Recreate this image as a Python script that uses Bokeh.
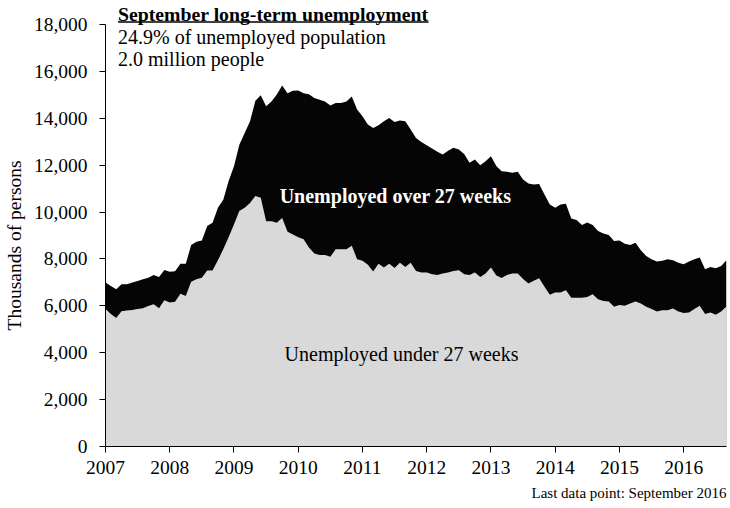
import numpy as np
import pandas as pd
from bokeh.plotting import figure
from bokeh.models import (Range1d, FixedTicker, NumeralTickFormatter, Label,
                          BasicTickFormatter, Title)
from bokeh.embed import file_html
from bokeh.resources import INLINE

# ---------------- data (thousands of persons, monthly) ----------------
months = pd.date_range("2007-01-01", "2016-09-01", freq="MS")

total_unemployed = [
    6990, 6850, 6710, 6920, 6920, 6990, 7060, 7130, 7200, 7310, 7230, 7530,
    7450, 7480, 7790, 7790, 8590, 8730, 8790, 9400, 9540, 10180, 10530, 11320,
    11950, 12870, 13370, 13870, 14750, 14980, 14510, 14720, 15010, 15400, 15070, 15170,
    15190, 15070, 15030, 14870, 14790, 14720, 14550, 14650, 14650, 14720, 14930, 14370,
    14090, 13730, 13590, 13700, 13870, 14010, 13840, 13900, 13870, 13520, 13160, 12990,
    12850, 12710, 12570, 12450, 12620, 12740, 12670, 12480, 12100, 12240, 12000, 12170,
    12380, 11960, 11740, 11720, 11680, 11720, 11390, 11220, 11180, 11200, 10750, 10320,
    10180, 10320, 10350, 9720, 9660, 9450, 9550, 9450, 9190, 9080, 9020, 8770,
    8790, 8650, 8590, 8690, 8370, 8130, 7990, 7890, 7920, 7990, 7940, 7840,
    7770, 7890, 7990, 8060, 7560, 7660, 7600, 7700, 7940,
]

under_27_weeks = [
    5860, 5650, 5480, 5770, 5800, 5820, 5860, 5900, 5990, 6070, 5900, 6240,
    6140, 6170, 6520, 6420, 7030, 7130, 7200, 7510, 7510, 7940, 8410, 8930,
    9470, 10040, 10180, 10390, 10680, 10610, 9610, 9610, 9540, 9750, 9160, 9040,
    8930, 8840, 8490, 8230, 8170, 8170, 8090, 8410, 8410, 8410, 8560, 7990,
    7920, 7750, 7460, 7800, 7640, 7800, 7610, 7840, 7660, 7840, 7490, 7420,
    7420, 7350, 7320, 7380, 7420, 7490, 7520, 7350, 7320, 7420, 7230, 7380,
    7640, 7290, 7190, 7320, 7380, 7380, 7140, 6950, 7070, 7180, 6810, 6470,
    6570, 6570, 6660, 6350, 6350, 6350, 6380, 6490, 6280, 6210, 6180, 5960,
    6040, 6000, 6100, 6180, 6100, 5960, 5860, 5760, 5810, 5810, 5890, 5760,
    5690, 5720, 5860, 6000, 5650, 5720, 5620, 5760, 5970,
]

year_ticks = [2007, 2008, 2009, 2010, 2011, 2012, 2013, 2014, 2015, 2016]
y_ticks = [0, 2000, 4000, 6000, 8000, 10000, 12000, 14000, 16000, 18000]

title_text = "September long-term unemployment"
sub1_text = "24.9% of unemployed population"
sub2_text = "2.0 million people"
over_text = "Unemployed over 27 weeks"
under_text = "Unemployed under 27 weeks"
ylabel_text = "Thousands of persons"
note_text = "Last data point: September 2016"

# ---------------------------------------------------------------------
x = np.asarray(months.year + (months.month - 1) / 12.0, dtype=float)
tot = np.asarray(total_unemployed, dtype=float)
und = np.asarray(under_27_weeks, dtype=float)

FONT = "Liberation Serif"
F_LEFT, F_RIGHT, F_TOP, F_BOTTOM = 105, 726, 0, 446
PX_18K = 422.0  # pixels between 0 and 18,000
Y_TOP = 18000 * (F_BOTTOM - F_TOP) / PX_18K

p = figure(width=730, height=508, output_backend="svg", toolbar_location=None,
           x_range=Range1d(2007, x[-1]), y_range=Range1d(0, Y_TOP),
           min_border_left=F_LEFT, min_border_right=730 - F_RIGHT,
           min_border_top=F_TOP, min_border_bottom=508 - F_BOTTOM)
p.outline_line_color = None
p.background_fill_color = "white"
p.border_fill_color = "white"
p.xgrid.visible = False
p.ygrid.visible = False

p.varea(x=x, y1=np.zeros_like(und), y2=und, fill_color="#d9d9d9")
p.varea(x=x, y1=und, y2=tot, fill_color="#050505")
p.segment(x0=[x[-1]], y0=[0], x1=[x[-1]], y1=[und[-1]], line_color="#b0b0b0",
          line_width=1)

for ax in (p.xaxis[0], p.yaxis[0]):
    ax.axis_line_color = "black"
    ax.axis_line_width = 1
    ax.major_tick_line_color = "black"
    ax.major_tick_in = 0
    ax.major_tick_out = 6
    ax.minor_tick_line_color = None
    ax.major_label_text_font = FONT
    ax.major_label_text_font_size = "19.5px"
    ax.major_label_text_color = "black"

yax = p.yaxis[0]
yax.ticker = FixedTicker(ticks=y_ticks)
yax.formatter = NumeralTickFormatter(format="0,0")
yax.bounds = (0, 18000)
yax.major_label_standoff = 12
yax.axis_label = ylabel_text + "\u00a0" * 9
yax.axis_label_text_font = FONT
yax.axis_label_text_font_size = "19.5px"
yax.axis_label_text_font_style = "normal"
yax.axis_label_text_color = "black"
yax.axis_label_standoff = 6

xax = p.xaxis[0]
xax.ticker = FixedTicker(ticks=year_ticks)
xax.formatter = BasicTickFormatter(use_scientific=False)
xax.major_label_standoff = 8

note = Title(text=note_text, align="right", text_font=FONT,
             text_font_size="15px", text_font_style="normal",
             text_color="black", standoff=12)
p.add_layout(note, "below")


def px2x(fx):
    return 2007 + (fx - F_LEFT) * (x[-1] - 2007) / (F_RIGHT - F_LEFT)


def py2y(fy):
    return (F_BOTTOM - fy) * 18000 / PX_18K


def add_label(text, fx, fy, size, bold=False, color="black", align="left"):
    p.add_layout(Label(x=px2x(fx), y=py2y(fy), text=text, text_font=FONT,
                       text_font_size=size,
                       text_font_style="bold" if bold else "normal",
                       text_color=color, text_align=align,
                       text_baseline="middle"))


add_label(title_text, 117.5, 13.5, "19.75px", bold=True)
p.segment(x0=[px2x(117.5)], y0=[py2y(21.5)], x1=[px2x(428)], y1=[py2y(21.5)],
          line_color="black", line_width=1.3)
add_label(sub1_text, 117.5, 36.5, "20px")
add_label(sub2_text, 117.5, 58.5, "20px")
add_label(over_text, 395, 195, "20px", bold=True, color="white", align="center")
add_label(under_text, 401, 353, "20px", align="center")

open("out.html", "w").write(file_html(p, INLINE))
